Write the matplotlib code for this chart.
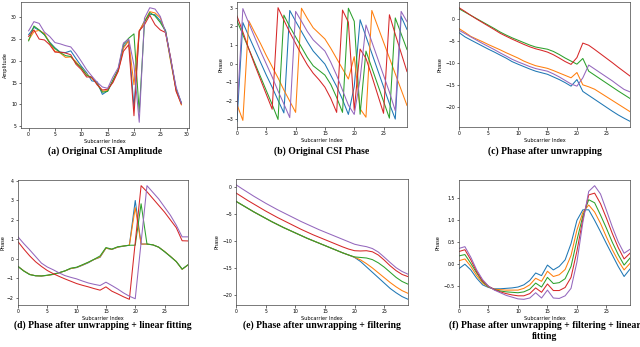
import matplotlib
matplotlib.use("Agg")
import matplotlib.pyplot as plt
import numpy as np

colors = ['#1f77b4', '#ff7f0e', '#2ca02c', '#d62728', '#9467bd']
subcarriers = list(range(30))

# (a) Original CSI amplitude
amp_blue   = [26.0, 27.7, 27.0, 26.0, 24.3, 23.0, 22.0, 21.9, 22.3, 20.5, 18.8, 17.3, 15.4, 15.2, 12.3, 13.1, 15.3, 17.8, 23.3, 24.7, 9.3, 26.7, 29.2, 30.7, 30.6, 29.2, 27.0, 20.2, 13.5, 10.4]
amp_orange = [24.8, 26.7, 27.0, 26.3, 24.1, 22.2, 21.8, 20.8, 20.9, 19.8, 18.4, 16.9, 16.0, 14.8, 13.0, 13.2, 15.4, 17.6, 22.9, 24.6, 14.5, 26.9, 29.0, 31.3, 31.0, 29.9, 26.5, 19.6, 13.2, 9.9]
amp_green  = [24.6, 28.0, 27.1, 26.0, 24.1, 22.8, 21.9, 21.2, 21.0, 19.5, 18.4, 16.7, 16.2, 14.7, 12.8, 13.0, 15.6, 18.0, 23.8, 25.2, 26.2, 8.2, 28.9, 31.1, 30.3, 28.8, 26.8, 20.0, 13.6, 10.2]
amp_red    = [25.6, 27.1, 25.0, 24.8, 23.7, 22.0, 22.0, 21.8, 21.4, 19.2, 18.0, 16.3, 16.3, 14.5, 13.3, 13.5, 15.0, 17.6, 22.2, 23.7, 7.4, 26.9, 28.3, 30.5, 28.3, 27.1, 26.5, 20.5, 13.0, 10.1]
amp_purple = [26.9, 29.0, 28.6, 26.6, 25.6, 24.2, 23.9, 23.5, 23.2, 21.7, 19.9, 18.0, 16.5, 15.1, 14.0, 13.7, 16.3, 18.4, 24.1, 25.0, 19.0, 5.9, 29.8, 32.2, 31.9, 30.2, 26.5, 20.3, 14.0, 10.3]

# (b) Original CSI phase (wrapped)
ph_blue   = [-3.10, 2.20, 1.48, 0.78, 0.08, -0.62, -1.27, -1.97, -2.65, 2.85, 2.27, 1.72, 1.17, 0.67, 0.32, -0.03, -0.63, -1.23, -1.93, -2.73, -1.23, 2.35, 1.45, 0.55, -0.35, -1.25, -2.15, -2.98, 2.53, 1.83]
ph_orange = [-2.20, -3.05, 2.30, 1.68, 1.08, 0.43, -0.17, -0.77, -1.42, -2.02, -2.62, 2.97, 2.42, 1.92, 1.62, 1.32, 0.82, 0.27, -0.28, -0.83, 0.37, -2.43, -2.88, 2.85, 2.00, 1.15, 0.30, -0.55, -1.40, -2.25]
ph_green  = [2.30, 1.55, 0.80, 0.05, -0.70, -1.45, -2.20, -3.00, 2.60, 1.98, 1.43, 0.88, 0.33, -0.12, -0.37, -0.62, -1.12, -1.82, -2.62, 2.97, 2.27, -2.72, 0.67, -0.23, -1.13, -2.03, -2.93, 2.45, 1.60, 0.75]
ph_red    = [2.55, 1.70, 0.80, -0.05, -0.85, -1.65, -2.45, 3.00, 2.33, 1.68, 1.08, 0.48, -0.07, -0.52, -0.87, -1.27, -1.87, -2.62, 2.87, 2.22, -2.51, 0.78, 0.28, -0.67, -1.67, -2.67, 2.62, 1.57, 0.57, -0.43]
ph_purple = [-2.60, 2.95, 2.18, 1.43, 0.68, -0.02, -0.72, -1.47, -2.17, -2.90, 2.80, 2.27, 1.72, 1.27, 0.97, 0.67, 0.07, -0.63, -1.43, -2.23, -2.73, -0.83, 2.07, 1.17, 0.27, -0.63, -1.53, -2.53, 2.80, 2.25]

# (c) Phase after unwrapping
un_blue   = [-3.1, -4.08, -4.8, -5.5, -6.2, -6.9, -7.55, -8.25, -8.93, -9.72, -10.3, -10.85, -11.4, -11.9, -12.25, -12.6, -13.2, -13.8, -14.5, -15.3, -13.8, -16.5, -17.4, -18.3, -19.2, -20.1, -21.0, -21.85, -22.6, -23.3]
un_orange = [-2.2, -3.05, -3.98, -4.6, -5.2, -5.85, -6.45, -7.05, -7.7, -8.3, -8.9, -9.6, -10.15, -10.65, -10.95, -11.25, -11.75, -12.3, -12.85, -13.4, -12.2, -15.0, -15.45, -16.0, -16.85, -17.7, -18.55, -19.4, -20.25, -21.1]
un_green  = [2.3, 1.55, 0.8, 0.05, -0.7, -1.45, -2.2, -3.0, -3.68, -4.3, -4.85, -5.4, -5.95, -6.4, -6.65, -6.9, -7.4, -8.1, -8.9, -9.6, -10.3, -9.0, -11.9, -12.8, -13.7, -14.6, -15.5, -16.4, -17.25, -18.1]
un_red    = [2.55, 1.7, 0.8, -0.05, -0.85, -1.65, -2.45, -3.28, -3.95, -4.6, -5.2, -5.8, -6.35, -6.8, -7.15, -7.55, -8.15, -8.9, -9.7, -10.35, -8.8, -5.5, -6.0, -6.95, -7.95, -8.95, -9.95, -11.0, -12.0, -13.0]
un_purple = [-2.6, -3.33, -4.1, -4.85, -5.6, -6.3, -7.0, -7.75, -8.45, -9.18, -9.77, -10.3, -10.85, -11.3, -11.6, -11.9, -12.5, -13.2, -14.0, -14.8, -15.3, -13.4, -10.5, -11.4, -12.3, -13.2, -14.1, -15.1, -16.05, -16.6]

# (d) Phase after unwrapping + linear fitting
lf_blue   = [-0.39, -0.62, -0.80, -0.87, -0.88, -0.85, -0.80, -0.72, -0.62, -0.50, -0.45, -0.33, -0.20, -0.03, 0.08, 0.55, 0.48, 0.60, 0.65, 0.70, 3.00, 0.76, 0.76, 0.72, 0.60, 0.37, 0.12, -0.14, -0.53, -0.31]
lf_orange = [-0.39, -0.62, -0.80, -0.87, -0.88, -0.85, -0.80, -0.72, -0.62, -0.50, -0.44, -0.32, -0.18, -0.03, 0.10, 0.55, 0.49, 0.60, 0.66, 0.70, 2.63, 0.76, 0.76, 0.72, 0.60, 0.38, 0.13, -0.14, -0.54, -0.31]
lf_green  = [-0.39, -0.63, -0.81, -0.87, -0.88, -0.84, -0.79, -0.71, -0.62, -0.48, -0.43, -0.30, -0.17, -0.02, 0.15, 0.58, 0.50, 0.62, 0.66, 0.70, 0.70, 2.83, 0.76, 0.72, 0.60, 0.37, 0.12, -0.14, -0.53, -0.31]
lf_red    = [0.88, 0.50, 0.15, -0.15, -0.39, -0.60, -0.76, -0.90, -1.03, -1.15, -1.27, -1.36, -1.44, -1.53, -1.61, -1.44, -1.66, -1.80, -1.95, -2.08, 0.85, 3.76, 3.45, 3.10, 2.75, 2.40, 2.00, 1.60, 0.93, 0.92]
lf_purple = [1.13, 0.78, 0.46, 0.12, -0.22, -0.42, -0.56, -0.72, -0.86, -0.95, -1.03, -1.14, -1.24, -1.31, -1.37, -1.20, -1.37, -1.55, -1.75, -1.92, -2.05, 0.85, 3.76, 3.42, 3.08, 2.66, 2.24, 1.73, 1.13, 1.13]

# (e) Phase after unwrapping + filtering
fl_blue   = [-2.65, -3.3, -3.95, -4.6, -5.2, -5.8, -6.4, -6.95, -7.5, -8.0, -8.5, -9.0, -9.5, -9.95, -10.4, -10.85, -11.3, -11.75, -12.2, -12.6, -13.05, -13.8, -14.8, -15.8, -16.8, -17.8, -18.8, -19.6, -20.3, -20.8]
fl_orange = [-2.65, -3.3, -3.95, -4.6, -5.2, -5.8, -6.4, -6.95, -7.5, -8.0, -8.5, -9.0, -9.5, -9.95, -10.4, -10.85, -11.3, -11.75, -12.2, -12.6, -13.0, -13.5, -14.2, -15.0, -15.9, -16.8, -17.7, -18.5, -19.2, -19.7]
fl_green  = [-2.65, -3.3, -3.95, -4.6, -5.2, -5.8, -6.4, -6.95, -7.5, -8.0, -8.5, -9.0, -9.5, -9.95, -10.4, -10.85, -11.3, -11.75, -12.2, -12.6, -12.95, -13.05, -13.15, -13.45, -14.05, -14.85, -15.8, -16.75, -17.5, -18.0]
fl_red    = [-1.1, -1.8, -2.5, -3.15, -3.8, -4.45, -5.05, -5.65, -6.2, -6.75, -7.3, -7.85, -8.35, -8.85, -9.3, -9.75, -10.2, -10.65, -11.1, -11.5, -11.8, -11.85, -11.8, -12.0, -12.6, -13.55, -14.6, -15.5, -16.2, -16.6]
fl_purple = [0.43, -0.3, -1.0, -1.7, -2.35, -3.0, -3.6, -4.2, -4.75, -5.3, -5.85, -6.4, -6.9, -7.4, -7.9, -8.35, -8.8, -9.25, -9.7, -10.15, -10.6, -10.85, -11.05, -11.4, -12.05, -13.0, -14.0, -14.95, -15.65, -16.15]

# (f) Phase after unwrapping + filtering + linear fitting
ff_blue   = [-0.10, 0.00, -0.13, -0.32, -0.47, -0.53, -0.56, -0.56, -0.55, -0.54, -0.52, -0.47, -0.37, -0.20, -0.26, -0.02, -0.13, -0.05, 0.10, 0.47, 1.00, 1.24, 1.24, 1.00, 0.74, 0.47, 0.21, -0.05, -0.28, -0.11]
ff_orange = [0.08, 0.12, -0.05, -0.26, -0.43, -0.52, -0.57, -0.58, -0.59, -0.59, -0.59, -0.55, -0.47, -0.32, -0.39, -0.16, -0.28, -0.24, -0.12, 0.20, 0.78, 1.18, 1.35, 1.19, 0.93, 0.62, 0.33, 0.08, -0.13, 0.02]
ff_green  = [0.19, 0.22, 0.02, -0.20, -0.40, -0.51, -0.58, -0.61, -0.63, -0.64, -0.65, -0.63, -0.57, -0.43, -0.52, -0.30, -0.44, -0.42, -0.33, -0.05, 0.55, 1.10, 1.47, 1.40, 1.12, 0.82, 0.50, 0.22, -0.02, 0.14]
ff_red    = [0.29, 0.33, 0.10, -0.17, -0.38, -0.50, -0.58, -0.63, -0.67, -0.70, -0.72, -0.72, -0.67, -0.54, -0.64, -0.45, -0.60, -0.60, -0.53, -0.30, 0.30, 1.02, 1.58, 1.62, 1.38, 1.05, 0.70, 0.38, 0.12, 0.25]
ff_purple = [0.36, 0.40, 0.16, -0.13, -0.35, -0.50, -0.59, -0.65, -0.71, -0.75, -0.79, -0.80, -0.77, -0.65, -0.77, -0.59, -0.77, -0.78, -0.72, -0.55, 0.05, 0.95, 1.66, 1.79, 1.60, 1.23, 0.85, 0.51, 0.25, 0.34]

panels = [
    dict(series=[amp_blue, amp_orange, amp_green, amp_red, amp_purple], ylabel='Amplitude',
         caption='(a) Original CSI Amplitude', xlim=None, xticks=[0, 5, 10, 15, 20, 25, 30]),
    dict(series=[ph_blue, ph_orange, ph_green, ph_red, ph_purple], ylabel='Phase',
         caption='(b) Original CSI Phase', xlim=(0, 29), xticks=[0, 5, 10, 15, 20, 25]),
    dict(series=[un_blue, un_orange, un_green, un_red, un_purple], ylabel='Phase',
         caption='(c) Phase after unwrapping', xlim=(0, 29), xticks=[0, 5, 10, 15, 20, 25]),
    dict(series=[lf_blue, lf_orange, lf_green, lf_red, lf_purple], ylabel='Phase',
         caption='(d) Phase after unwrapping + linear fitting', xlim=(0, 29), xticks=[0, 5, 10, 15, 20, 25]),
    dict(series=[fl_blue, fl_orange, fl_green, fl_red, fl_purple], ylabel='Phase',
         caption='(e) Phase after unwrapping + filtering', xlim=(0, 29), xticks=[0, 5, 10, 15, 20, 25]),
    dict(series=[ff_blue, ff_orange, ff_green, ff_red, ff_purple], ylabel='Phase',
         caption='(f) Phase after unwrapping + filtering + linear\nfitting', xlim=(0, 29), xticks=[0, 5, 10, 15, 20, 25]),
]

W, H = 640, 347
# axes boxes in pixels: left, top, right, bottom
boxes = [(21, 2, 189, 128), (237, 2, 407, 127), (459, 2, 630, 127),
         (18, 180, 188, 305), (236, 179, 408, 305), (459, 180, 630, 305)]
caption_top = [146, 146, 146, 320, 320, 320]

fig = plt.figure(figsize=(W / 100, H / 100), dpi=100)
for k, (p, (l, t, r, b), cy) in enumerate(zip(panels, boxes, caption_top)):
    ax = fig.add_axes([l / W, 1 - b / H, (r - l) / W, (b - t) / H])
    for s, c in zip(p['series'], colors):
        ax.plot(subcarriers, s, color=c, lw=0.75)
    if p['xlim'] is not None:
        ax.set_xlim(*p['xlim'])
    ax.set_xticks(p['xticks'])
    ax.tick_params(labelsize=3.3, length=1.8, width=0.4, pad=1.2)
    for sp in ax.spines.values():
        sp.set_linewidth(0.5)
        sp.set_color('#444444')
    ax.set_xlabel('Subcarrier Index', fontsize=3.6, labelpad=1.2)
    ax.set_ylabel(p['ylabel'], fontsize=3.6, labelpad=1.0 if k == 3 else 2)
    cx = (l + r) / 2 / W
    fig.text(cx, 1 - cy / H, p['caption'], ha='center', va='top', multialignment='center',
             fontsize=7.0, fontweight='bold', family=['Liberation Serif', 'DejaVu Serif'],
             linespacing=1.3)

fig.savefig('out.png', dpi=100)
